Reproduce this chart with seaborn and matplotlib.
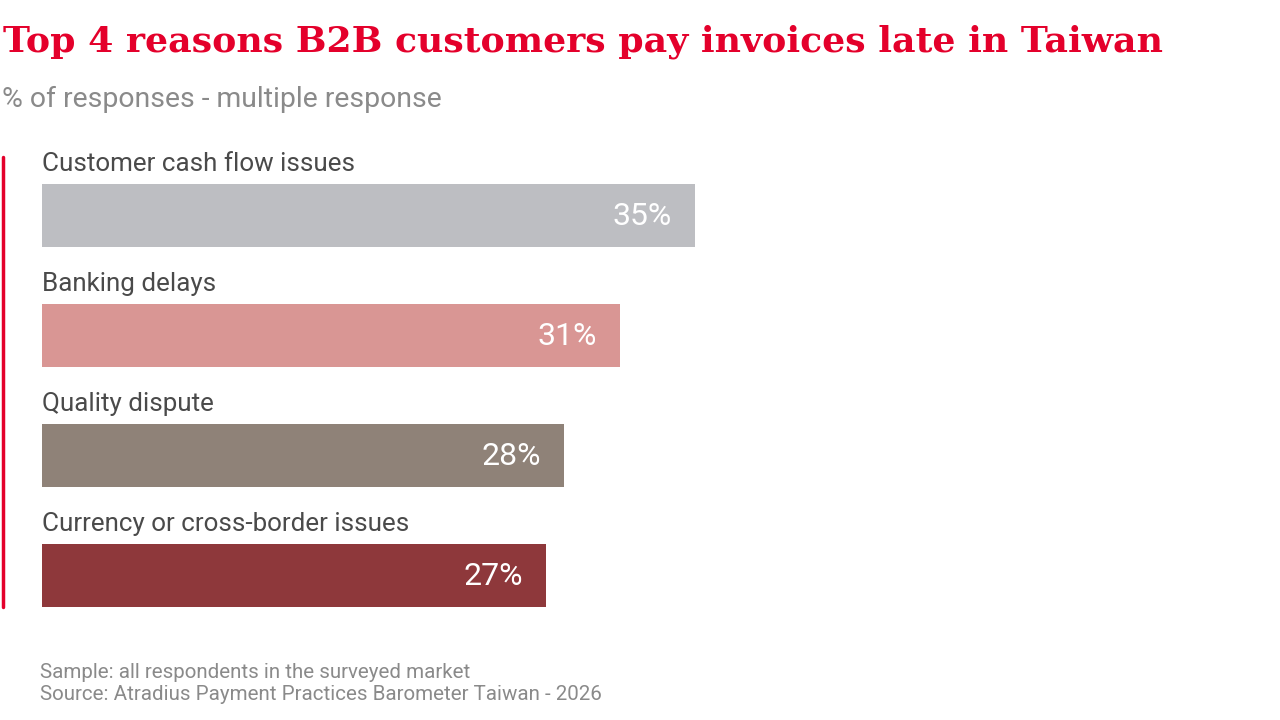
import matplotlib
matplotlib.use("Agg")
import matplotlib.pyplot as plt
import seaborn as sns
import pandas as pd
from matplotlib.lines import Line2D

categories = ["Customer cash flow issues", "Banking delays", "Quality dispute", "Currency or cross-border issues"]
values = [35, 31, 28, 27]
value_labels = ["35%", "31%", "28%", "27%"]
bar_colors = ["#BDBEC2", "#D99694", "#8F8278", "#8E383B"]

title = "Top 4 reasons B2B customers pay invoices late in Taiwan"
subtitle = "% of responses - multiple response"
footer = ["Sample: all respondents in the surveyed market",
          "Source: Atradius Payment Practices Barometer Taiwan - 2026"]

sns.set_theme(style="white")
plt.rcParams['font.family'] = ['Roboto', 'DejaVu Sans']

W, H = 1280, 720
fig = plt.figure(figsize=(W / 100, H / 100), dpi=100)

def fx(px):
    return px / W

def fy(py):
    return 1 - py / H

# axes: left 42px, top 155.5px, each category 120px tall
ax_left, ax_top, ax_h = 42, 155.5, 480
ax_w = 653 * 40 / 35
ax = fig.add_axes([fx(ax_left), fy(ax_top + ax_h), ax_w / W, ax_h / H])

df = pd.DataFrame({"cat": categories, "val": values})
sns.barplot(data=df, x="val", y="cat", hue="cat", palette=bar_colors, orient="h",
            width=0.525, ax=ax, legend=False, saturation=1, linewidth=0)
ax.set_xlim(0, 40)
ax.set_ylim(3.5, -0.5)
ax.axis("off")

px_per_unit = ax_w / 40
for i, (cat, v, lab) in enumerate(zip(categories, values, value_labels)):
    ax.text(0, i - 0.43, cat, ha="left", va="center", fontsize=18.7, color="#4A4A4A")
    ax.text(v - 23 / px_per_unit, i + 0.01, lab, ha="right", va="center", fontsize=23,
            color="white")

# red accent line
fig.add_artist(Line2D([fx(3), fx(3)], [fy(157), fy(607)], color="#E4002B", linewidth=2.5,
                      transform=fig.transFigure))

fig.text(fx(3), fy(42), title, ha="left", va="center", fontsize=26.1, fontweight="bold",
         color="#E4002B", family=["DejaVu Serif"])
fig.text(fx(2), fy(99), subtitle, ha="left", va="center", fontsize=20.4, color="#8A8A8A")
fig.text(fx(40), fy(672), footer[0], ha="left", va="center", fontsize=14.8, color="#8A8A8A")
fig.text(fx(40), fy(695), footer[1], ha="left", va="center", fontsize=14.8, color="#8A8A8A")

fig.savefig("out.png", dpi=100, facecolor="white")
